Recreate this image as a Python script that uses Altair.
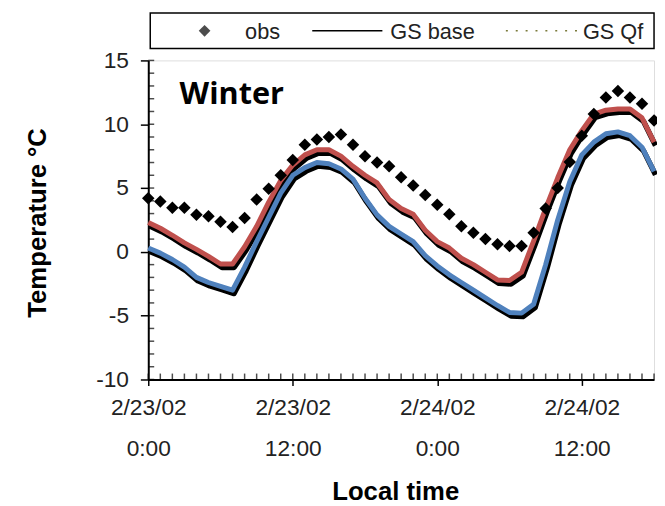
import altair as alt
import pandas as pd

# ---------------- data ----------------
hours = list(range(43))  # hours since 2/23/02 0:00
obs = [4.2, 3.95, 3.45, 3.45, 2.9, 2.8, 2.35, 1.95, 2.65, 4.1,
       4.95, 6.0, 7.2, 8.4, 8.8, 9.0, 9.2, 8.4, 7.5, 7.0,
       6.7, 5.85, 5.2, 4.45, 3.7, 2.95, 2.0, 1.5, 1.0, 0.6,
       0.45, 0.45, 1.5, 3.4, 5.0, 7.05, 9.1, 10.8, 12.1, 12.6,
       12.1, 11.6, 10.3]
gs_qf = [2.3, 1.85, 1.3, 0.7, 0.2, -0.35, -0.95, -0.95, 0.4, 2.0,
         3.9, 5.6, 6.8, 7.6, 8.0, 8.0, 7.5, 6.7, 6.0, 5.4,
         4.1, 3.4, 2.95, 1.7, 0.8, 0.3, -0.5, -1.0, -1.6, -2.2,
         -2.25, -1.6, 0.85, 3.4, 5.8, 8.0, 9.5, 10.8, 11.1, 11.2,
         11.2, 10.5, 8.6]
gs_base = [0.3, -0.1, -0.6, -1.2, -2.0, -2.4, -2.7, -3.0, -1.2, 0.8,
           2.7, 4.6, 6.0, 6.6, 7.0, 6.9, 6.5, 5.7, 4.2, 2.9,
           2.0, 1.4, 0.8, -0.3, -1.1, -1.8, -2.4, -3.0, -3.6, -4.2,
           -4.75, -4.8, -4.1, -1.0, 2.5, 5.5, 7.6, 8.6, 9.25, 9.4,
           9.1, 8.2, 6.3]

series_names = ["GS Qf", "GS base"]
series_colors = ["#c0504d", "#4f81bd"]
legend_labels = ["obs", "GS base", "GS Qf"]

tick_hours = [0, 12, 24, 36]
tick_dates = ["2/23/02", "2/23/02", "2/24/02", "2/24/02"]
tick_times = ["0:00", "12:00", "0:00", "12:00"]
y_ticks = [-10, -5, 0, 5, 10, 15]
y_minor = list(range(-10, 16))
season = "Winter"

# ---------------- tables ----------------
obs_df = pd.DataFrame({"hour": hours, "temp": obs})
lines_df = pd.concat([
    pd.DataFrame({"hour": hours, "temp": gs_qf, "series": series_names[0]}),
    pd.DataFrame({"hour": hours, "temp": gs_base, "series": series_names[1]}),
])
xminor_df = pd.DataFrame({"hour": hours})
yminor_df = pd.DataFrame({"temp": y_minor})
one = pd.DataFrame({"a": [0]})
season_df = pd.DataFrame({"hour": [2.6], "temp": [11.6], "label": [season]})

W, H = 512, 323
xscale = alt.Scale(domain=[0, 42], nice=False, zero=False)
yscale = alt.Scale(domain=[-10, 15], nice=False, zero=False)

label_expr = ""
for h, d, t in zip(tick_hours, tick_dates, tick_times):
    label_expr += f"datum.value == {h} ? ['{d}', '{t}'] : "
label_expr += "''"

LAB_FONT = "Liberation Sans"

x_main = alt.Axis(values=tick_hours, labelExpr=label_expr, tickSize=6, tickWidth=1.5,
                  tickColor="black", domainColor="black", domainWidth=2,
                  labelFont=LAB_FONT, labelFontSize=23, labelColor="#222",
                  labelLineHeight=42, labelPadding=11, labelFlush=False, grid=False,
                  title="Local time", titleFont=LAB_FONT, titleFontSize=26,
                  titleFontWeight="bold", titleColor="black",
                  titleX=250, titleY=114, titleBaseline="middle", titleAlign="center")
y_main = alt.Axis(values=y_ticks, labelExpr="datum.value", tickSize=8, tickWidth=1.5,
                  tickColor="black", domainColor="black", domainWidth=2,
                  labelFont=LAB_FONT, labelFontSize=23, labelColor="#222",
                  labelPadding=12, labelFlush=False, grid=False,
                  title="Temperature \u00b0C", titleFont=LAB_FONT, titleFontSize=26,
                  titleFontWeight="bold", titleColor="black",
                  titleX=-112, titleY=164, titleAngle=-90,
                  titleBaseline="middle", titleAlign="center")

# inner (minor) ticks, placed through the scales
xminor = alt.Chart(xminor_df).mark_tick(color="black", thickness=1.5, size=6).encode(
    x=alt.X("hour:Q", scale=xscale, axis=None),
    y=alt.value(H - 3),
)
yminor = alt.Chart(yminor_df).mark_tick(color="black", thickness=1.5, size=6).encode(
    y=alt.Y("temp:Q", scale=yscale, axis=None),
    x=alt.value(3),
)

shadow = alt.Chart(lines_df).mark_line(color="black", strokeWidth=5.5, xOffset=1.5,
                                       yOffset=3.5, strokeJoin="round").encode(
    x=alt.X("hour:Q", scale=xscale, axis=None),
    y=alt.Y("temp:Q", scale=yscale, axis=None),
    detail="series:N",
)
colored = alt.Chart(lines_df).mark_line(strokeWidth=5, strokeJoin="round").encode(
    x=alt.X("hour:Q", scale=xscale, axis=None),
    y=alt.Y("temp:Q", scale=yscale, axis=None),
    color=alt.Color("series:N", scale=alt.Scale(domain=series_names, range=series_colors),
                    legend=None),
)
points = alt.Chart(obs_df).mark_point(shape="diamond", filled=True, size=160,
                                      color="black", opacity=1).encode(
    x=alt.X("hour:Q", scale=xscale, axis=x_main),
    y=alt.Y("temp:Q", scale=yscale, axis=y_main),
)
season_text = alt.Chart(season_df).mark_text(font="Open Sans", fontWeight="bold",
                                             fontSize=31, align="left",
                                             baseline="alphabetic", color="black").encode(
    x=alt.X("hour:Q", scale=xscale, axis=None),
    y=alt.Y("temp:Q", scale=yscale, axis=None),
    text="label:N",
)

# ---------------- legend ----------------
LY = -30
box = alt.Chart(one).mark_rect(fill="white", stroke="black", strokeWidth=1.5).encode(
    x=alt.value(2), x2=alt.value(512), y=alt.value(-48), y2=alt.value(-12))
leg_pt = alt.Chart(one).mark_point(shape="diamond", filled=True, size=140,
                                   color="black").encode(x=alt.value(57), y=alt.value(LY))
leg_line = alt.Chart(one).mark_rule(color="black", strokeWidth=1.5).encode(
    x=alt.value(166), x2=alt.value(237), y=alt.value(LY))
leg_dot = alt.Chart(one).mark_rule(color="#7a7a3a", strokeWidth=1.5,
                                   strokeDash=[2, 8]).encode(
    x=alt.value(362), x2=alt.value(437), y=alt.value(LY))
leg_texts = []
for lab, xpos in zip(legend_labels, [98, 245, 440]):
    leg_texts.append(alt.Chart(one).mark_text(text=lab, font=LAB_FONT, fontSize=22,
                                              align="left", baseline="middle",
                                              color="#222").encode(
        x=alt.value(xpos), y=alt.value(LY + 1)))

chart = alt.layer(
    xminor, yminor, shadow, colored, points, season_text, box, leg_pt, leg_line,
    leg_dot, *leg_texts
).resolve_axis(x="independent", y="independent").properties(
    width=W, height=H,
    padding={"left": 142, "top": 50, "right": 3, "bottom": 125},
    autosize=alt.AutoSizeParams(type="none"),
).configure_view(stroke="#a6a6a6", strokeWidth=1.5).configure(background="white")

chart.save("out.html", embed_options={"renderer": "svg", "actions": False})
